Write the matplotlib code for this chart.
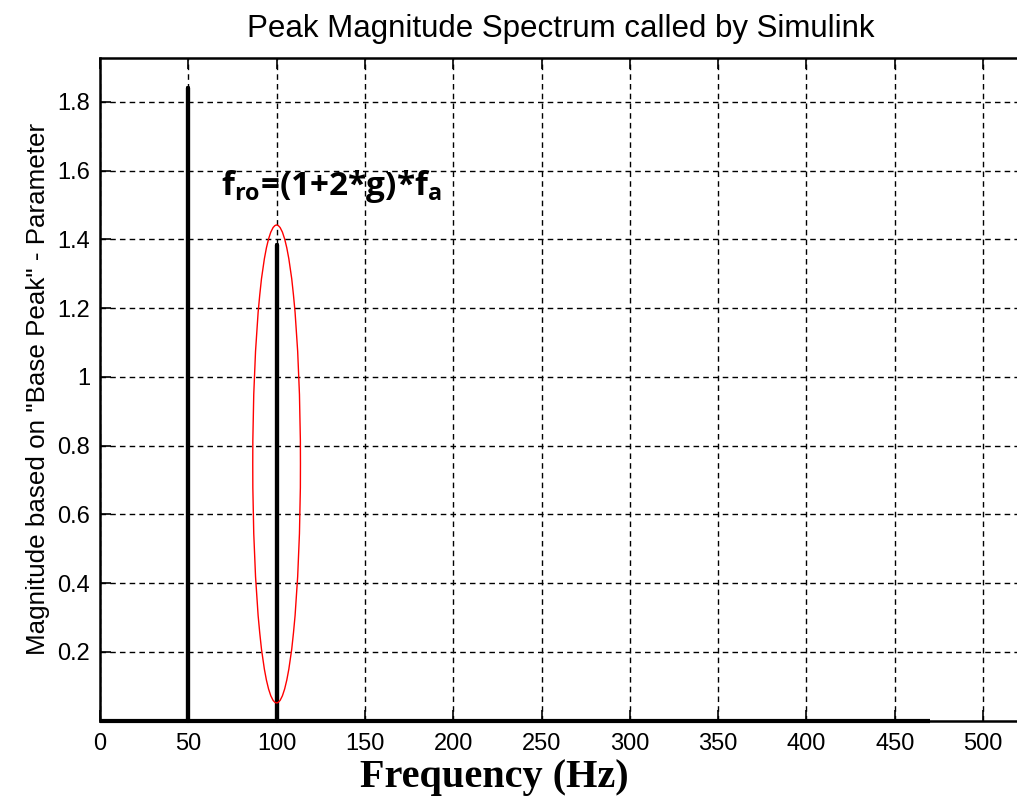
import matplotlib
matplotlib.use("Agg")
import matplotlib.pyplot as plt
from matplotlib.patches import Ellipse

# Data
freq = [0, 50, 50, 50, 100, 100, 100, 470]
mag = [0, 0, 1.84, 0, 0, 1.385, 0, 0]
xticks = [0, 50, 100, 150, 200, 250, 300, 350, 400, 450, 500]
yticks = [0.2, 0.4, 0.6, 0.8, 1.0, 1.2, 1.4, 1.6, 1.8]
ytick_labels = ["0.2", "0.4", "0.6", "0.8", "1", "1.2", "1.4", "1.6", "1.8"]
title = "Peak Magnitude Spectrum called by Simulink"
xlabel = "Frequency (Hz)"
ylabel = 'Magnitude based on "Base Peak" - Parameter'
annot = r"f$_\mathbf{ro}$=(1+2*g)*f$_\mathbf{a}$"
ell_center = (100, 0.747)
ell_w, ell_h = 27, 1.39

plt.rcParams['mathtext.fontset'] = 'custom'
plt.rcParams['mathtext.bf'] = 'Open Sans:bold'
plt.rcParams['mathtext.rm'] = 'Open Sans:bold'
plt.rcParams['mathtext.it'] = 'Open Sans:bold'

fig = plt.figure(figsize=(10.17, 7.98), dpi=100)
ax = fig.add_axes([0.0983, 0.0968, 0.9066, 0.831])
ax.set_xlim(0, 522)
ax.set_ylim(0, 1.929)

ax.plot(freq, mag, color='black', linewidth=3, solid_capstyle='butt', clip_on=False, zorder=3)
ax.add_patch(Ellipse(ell_center, ell_w, ell_h, fill=False, edgecolor='red', linewidth=1.0, zorder=4))

ax.set_xticks(xticks)
ax.set_yticks(yticks)
ax.set_yticklabels(ytick_labels)
ax.grid(True, color='black', linestyle=(0, (4, 3)), linewidth=1.0)
ax.set_axisbelow(True)
ax.tick_params(direction='in', length=8, width=1.2, top=True, right=False,
               labelsize=17, pad=9, colors='black', labelfontfamily='Liberation Sans')
ax.tick_params(axis='y', pad=7)
for s in ax.spines.values():
    s.set_linewidth(1.8)

ax.set_title(title, fontsize=22.5, fontfamily='Liberation Sans', pad=15)
ax.set_xlabel(xlabel, fontsize=29, fontweight='bold', fontfamily='Liberation Serif')
ax.xaxis.set_label_coords(0.428, -0.058)
ax.set_ylabel(ylabel, fontsize=18.7, fontfamily='Liberation Sans', labelpad=5)

ax.text(131, 1.53, annot, fontsize=24, ha='center', va='baseline',
        fontweight='bold', fontfamily='Open Sans')

fig.savefig("out.png", dpi=100)
